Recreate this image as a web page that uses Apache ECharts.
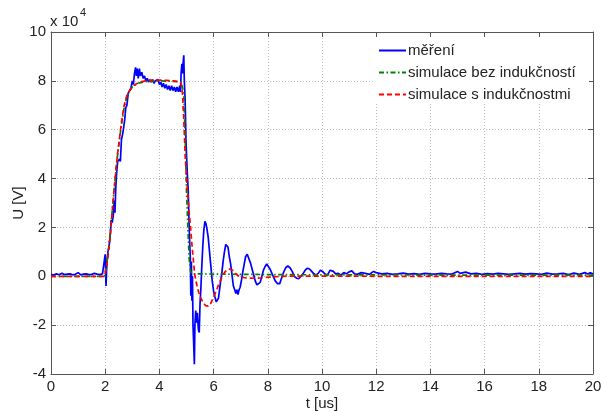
<!DOCTYPE html>
<html>
<head>
<meta charset="utf-8">
<script src="https://cdn.jsdelivr.net/npm/echarts@6/dist/echarts.min.js"></script>
<style>
  html, body { margin: 0; padding: 0; background: #fff; }
  #chart { width: 601px; height: 411px; }
</style>
</head>
<body>
<div id="chart"></div>
<script>
// Voltage values are in units of 10^4 V (the axis carries the "x 10^4" factor).
const xTicks = [0, 2, 4, 6, 8, 10, 12, 14, 16, 18, 20];
const yTicks = [-4, -2, 0, 2, 4, 6, 8, 10];
const seriesNames = ['měření', 'simulace bez indukčností', 'simulace s indukčnostmi'];

// measured voltage
const tMeas = [
  0, 0.1, 0.2, 0.3, 0.4, 0.5, 0.6, 0.7, 0.8, 0.9, 1.0, 1.1, 1.2, 1.3, 1.4, 1.5, 1.6, 1.7, 1.8, 1.9, 1.97,
  2.0, 2.03, 2.06, 2.1, 2.14, 2.18, 2.22, 2.26, 2.3, 2.33, 2.36, 2.39, 2.42, 2.46, 2.5, 2.53, 2.56, 2.6,
  2.64, 2.67, 2.72, 2.76, 2.8, 2.85, 2.9, 2.95, 3.0, 3.04, 3.08, 3.12, 3.15, 3.18, 3.22, 3.26, 3.3, 3.35,
  3.4, 3.45, 3.5, 3.55, 3.6, 3.65, 3.7, 3.75, 3.8, 3.85, 3.9, 3.95, 4.0, 4.05, 4.1, 4.15, 4.2, 4.25, 4.3,
  4.35, 4.4, 4.45, 4.5, 4.55, 4.6, 4.65, 4.7, 4.75, 4.78, 4.8, 4.83, 4.85, 4.88, 4.9, 4.92, 4.95, 4.98,
  5.0, 5.03, 5.06, 5.08, 5.1, 5.12, 5.14, 5.16, 5.18, 5.2, 5.22, 5.24, 5.26, 5.29, 5.31, 5.34, 5.37, 5.4,
  5.44, 5.47, 5.5, 5.53, 5.56, 5.6, 5.64, 5.68, 5.72, 5.76, 5.8, 5.85, 5.9, 5.95, 6.0, 6.05, 6.1, 6.14,
  6.18, 6.22, 6.26, 6.3, 6.35, 6.4, 6.45, 6.49, 6.53, 6.58, 6.63, 6.68, 6.73, 6.78, 6.82, 6.86, 6.9, 6.94,
  6.98, 7.03, 7.08, 7.13, 7.18, 7.24, 7.3, 7.36, 7.42, 7.48, 7.54, 7.6, 7.66, 7.72, 7.78, 7.84, 7.9, 7.96,
  8.02, 8.08, 8.14, 8.2, 8.28, 8.36, 8.44, 8.5, 8.58, 8.66, 8.74, 8.82, 8.9, 8.98, 9.06, 9.14, 9.22, 9.3,
  9.38, 9.46, 9.54, 9.62, 9.7, 9.78, 9.86, 9.94, 10.02, 10.1, 10.2, 10.3, 10.36, 10.42, 10.5, 10.6, 10.7,
  10.8, 10.9, 11.0, 11.1, 11.2, 11.3, 11.45, 11.6, 11.75, 11.9, 12.0, 12.2, 12.4, 12.6, 12.8, 13.0, 13.2,
  13.4, 13.6, 13.8, 14.0, 14.2, 14.4, 14.6, 14.8, 15.0, 15.1, 15.3, 15.5, 15.7, 15.9, 16.1, 16.3, 16.5,
  16.7, 16.9, 17.1, 17.3, 17.5, 17.7, 17.9, 18.1, 18.3, 18.5, 18.7, 18.9, 19.1, 19.3, 19.5, 19.7, 19.8,
  19.9, 20.0
];
const uMeas = [
  0.08, 0.05, 0.1, 0.06, 0.12, 0.07, 0.09, 0.1, 0.06, 0.08, 0.15, 0.06, 0.09, 0.1, 0.07, 0.08, 0.12, 0.09, 0.07, 0.1, 0.05,
  0.9, -0.4, 0.5, 1.0, 1.2, 1.6, 2.3, 2.2, 2.5, 3.1, 2.6, 3.6, 4.2, 4.7, 4.65, 4.8, 4.7, 5.6,
  5.8, 6.0, 6.4, 6.9, 7.0, 7.5, 7.6, 7.7, 8.0, 7.85, 8.3, 8.55, 8.2, 8.5, 8.1, 8.5, 8.2, 8.35,
  8.1, 8.2, 8.0, 8.1, 7.95, 8.05, 7.95, 8.05, 7.9, 8.0, 7.95, 8.05, 7.85, 7.95, 7.75, 7.9, 7.7, 7.85, 7.65,
  7.8, 7.6, 7.8, 7.6, 7.75, 7.55, 7.75, 7.55, 7.8, 7.55, 8.3, 8.7, 8.3, 8.8, 9.05, 8.0, 7.2, 5.6,
  5.0, 4.2, 3.6, 2.8, 2.0, 1.3, 0.8, -0.8, 0.6, -1.0, 0.0, -2.0, -2.6, -3.6, -2.0, -1.4, -1.9, -1.5,
  -2.2, -2.3, -1.1, -0.5, 0.3, 1.2, 1.9, 2.25, 2.15, 1.9, 1.6, 1.0, 0.4, -0.2, -0.6, -0.85, -1.05, -1.1,
  -0.9, -0.55, -0.2, 0.1, 0.6, 1.0, 1.3, 1.35, 1.2, 0.8, 0.5, 0.05, -0.4, -0.55, -0.7, -0.55, -0.75, -0.55,
  -0.45, -0.15, 0.2, 0.5, 0.8, 0.9, 0.85, 0.55, 0.3, 0.05, -0.2, -0.35, -0.4, -0.25, 0.0, 0.25, 0.4, 0.5,
  0.45, 0.3, 0.15, 0.0, -0.2, -0.3, -0.3, -0.1, 0.15, 0.35, 0.42, 0.35, 0.2, 0.0, -0.08, -0.1, 0.0, 0.1,
  0.25, 0.33, 0.3, 0.2, 0.1, 0.05, 0.12, 0.25, 0.2, 0.1, 0.05, 0.25, 0.3, 0.2, 0.1, 0.12, 0.05,
  0.15, 0.1, 0.18, 0.22, 0.1, 0.08, 0.15, 0.12, 0.08, 0.2, 0.15, 0.1, 0.12, 0.08, 0.1, 0.13, 0.09,
  0.11, 0.08, 0.12, 0.1, 0.09, 0.12, 0.1, 0.09, 0.2, 0.12, 0.17, 0.1, 0.12, 0.08, 0.11, 0.09, 0.12,
  0.1, 0.08, 0.1, 0.12, 0.09, 0.11, 0.1, 0.08, 0.13, 0.09, 0.1, 0.12, 0.07, 0.13, 0.08, 0.15, 0.09,
  0.14, 0.1
];

// simulation without inductances
const tSimL0 = [
  0, 1.98, 2.0, 2.05, 2.1, 2.15, 2.2, 2.25, 2.3, 2.35, 2.4, 2.45, 2.5, 2.55, 2.6, 2.7, 2.8, 2.9, 3.0,
  3.2, 3.5, 4.0, 4.5, 4.8, 4.85, 4.9, 4.95, 5.0, 5.05, 5.1, 5.15, 5.2, 5.4, 6.0, 7.0, 8.0, 10.0, 14.0, 20.0
];
const uSimL0 = [
  0, 0, 0.05, 0.45, 0.9, 1.4, 1.95, 2.55, 3.2, 3.8, 4.35, 4.9, 5.35, 5.8, 6.2, 6.9, 7.35, 7.6, 7.75,
  7.9, 7.97, 8.0, 7.98, 7.95, 7.9, 7.5, 5.8, 3.5, 2.0, 0.7, 0.2, 0.1, 0.1, 0.09, 0.08, 0.07, 0.06, 0.05, 0.05
];

// simulation with inductances
const tSimL = [
  0, 1.98, 2.0, 2.05, 2.1, 2.15, 2.2, 2.25, 2.3, 2.35, 2.4, 2.45, 2.5, 2.55, 2.6, 2.65, 2.7, 2.8, 2.9,
  3.0, 3.1, 3.2, 3.35, 3.5, 3.75, 4.0, 4.25, 4.5, 4.7, 4.8, 4.85, 4.9, 4.95, 5.0, 5.05, 5.1, 5.15, 5.2,
  5.25, 5.3, 5.35, 5.4, 5.45, 5.5, 5.6, 5.7, 5.8, 5.9, 6.0, 6.1, 6.2, 6.3, 6.4, 6.5, 6.6, 6.7, 6.8,
  6.9, 7.0, 7.2, 7.5, 7.8, 8.0, 8.5, 9.0, 10.0, 12.0, 15.0, 20.0
];
const uSimL = [
  0, 0, 0.05, 0.4, 0.8, 1.3, 1.8, 2.5, 3.2, 3.8, 4.4, 4.95, 5.4, 5.85, 6.3, 6.65, 7.0, 7.4, 7.6,
  7.75, 7.85, 7.9, 7.97, 8.0, 8.03, 8.03, 8.02, 8.0, 7.97, 7.9, 7.5, 6.4, 5.0, 4.0, 3.3, 2.6, 2.0, 1.3,
  0.7, 0.1, -0.2, -0.45, -0.65, -0.83, -1.05, -1.2, -1.22, -1.1, -0.85, -0.6, -0.3, -0.05, 0.15, 0.27, 0.3, 0.25, 0.13,
  0.03, -0.03, -0.07, -0.08, -0.06, -0.04, 0, 0.01, 0.01, 0, 0, 0
];

const zip = (ts, us) => ts.map((t, i) => [t, us[i]]);

const FONT = 'Liberation Sans, Arial, sans-serif';
const AXIS_COLOR = '#555';
const TEXT_COLOR = '#222';

const chart = echarts.init(document.getElementById('chart'), null, { renderer: 'canvas' });

const frameAxis = (extra) => Object.assign({
  type: 'value',
  nameMoveOverlap: false,
  axisLine: { show: true, onZero: false, lineStyle: { color: AXIS_COLOR, width: 1 } },
  axisTick: { show: true, inside: true, length: 5, lineStyle: { color: AXIS_COLOR } },
  axisLabel: { show: false },
  splitLine: { show: false }
}, extra);

chart.setOption({
  animation: false,
  backgroundColor: '#fff',
  grid: { left: 51, right: 8, top: 32, bottom: 37, show: false, containLabel: false, outerBoundsMode: 'none' },
  xAxis: [
    frameAxis({
      position: 'bottom',
      min: xTicks[0], max: xTicks[xTicks.length - 1], interval: xTicks[1] - xTicks[0],
      axisLabel: { show: true, fontSize: 15, color: TEXT_COLOR, fontFamily: FONT, margin: 5 },
      splitLine: { show: true, lineStyle: { color: '#bdbdbd', type: [1, 2], width: 1 } },
      name: 't [us]', nameLocation: 'middle', nameGap: 22,
      nameTextStyle: { fontSize: 15, color: TEXT_COLOR, fontFamily: FONT }
    }),
    frameAxis({
      position: 'top',
      min: xTicks[0], max: xTicks[xTicks.length - 1], interval: xTicks[1] - xTicks[0]
    })
  ],
  yAxis: [
    frameAxis({
      position: 'left',
      min: yTicks[0], max: yTicks[yTicks.length - 1], interval: yTicks[1] - yTicks[0],
      axisLabel: { show: true, fontSize: 15, color: TEXT_COLOR, fontFamily: FONT, margin: 5 },
      splitLine: { show: true, lineStyle: { color: '#bdbdbd', type: [1, 2], width: 1 } },
      name: 'U [V]', nameLocation: 'middle', nameGap: 25, nameRotate: 90,
      nameTextStyle: { fontSize: 15, color: TEXT_COLOR, fontFamily: FONT }
    }),
    frameAxis({
      position: 'right',
      min: yTicks[0], max: yTicks[yTicks.length - 1], interval: yTicks[1] - yTicks[0]
    })
  ],
  legend: {
    orient: 'vertical',
    left: 378, top: 43,
    padding: 0,
    itemWidth: 27, itemHeight: 14, itemGap: 7,
    itemStyle: { opacity: 0 },
    textStyle: { fontSize: 15, color: TEXT_COLOR, fontFamily: FONT, padding: [0, 0, 0, -3] },
    data: seriesNames,
    z: 5
  },
  graphic: [
    { type: 'rect', shape: { x: 373, y: 37, width: 216, height: 66 }, style: { fill: '#fff' }, z: 3, silent: true },
    { type: 'text', left: 50, top: 14, style: { text: 'x 10', fontSize: 15, fill: TEXT_COLOR, fontFamily: FONT }, z: 5 },
    { type: 'text', left: 80, top: 7, style: { text: '4', fontSize: 11, fill: TEXT_COLOR, fontFamily: FONT }, z: 5 }
  ],
  series: [
    {
      name: seriesNames[0], type: 'line', data: zip(tMeas, uMeas),
      symbol: 'none', sampling: null, smooth: false,
      lineStyle: { color: '#0000ff', width: 1.7 }, itemStyle: { color: '#0000ff' }, z: 2
    },
    {
      name: seriesNames[1], type: 'line', data: zip(tSimL0, uSimL0),
      symbol: 'none', smooth: false,
      lineStyle: { color: '#008000', width: 1.7, type: [5, 2.5, 1.5, 2.5] }, itemStyle: { color: '#008000' }, z: 2
    },
    {
      name: seriesNames[2], type: 'line', data: zip(tSimL, uSimL),
      symbol: 'none', smooth: false,
      lineStyle: { color: '#ff0000', width: 1.7, type: [5, 3] }, itemStyle: { color: '#ff0000' }, z: 2
    }
  ]
});
</script>
</body>
</html>
